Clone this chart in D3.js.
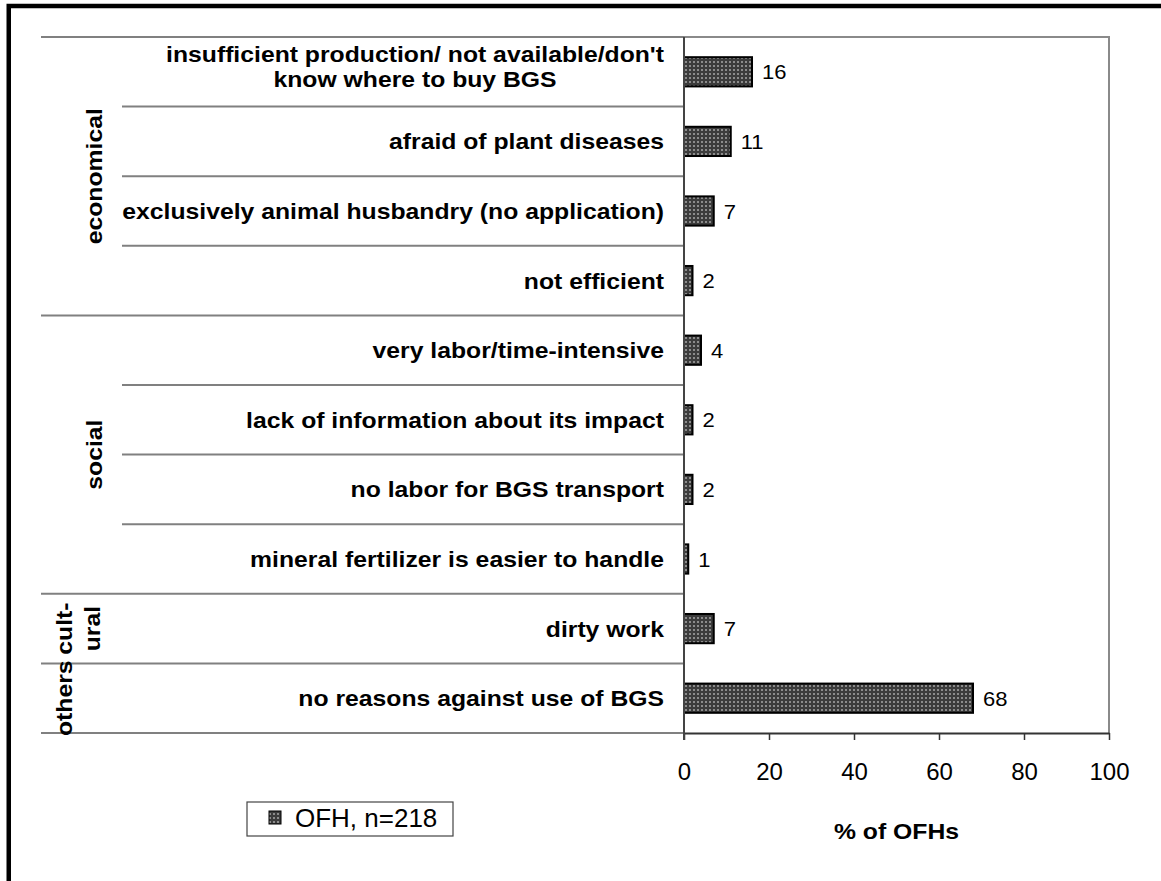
<!DOCTYPE html>
<html>
<head>
<meta charset="utf-8">
<script src="https://cdn.jsdelivr.net/npm/d3@7"></script>
<style>
  html, body { margin: 0; padding: 0; background: #fff; }
  svg { display: block; font-family: "Liberation Sans", Arial, sans-serif; }
</style>
</head>
<body>
<svg id="chart" width="1161" height="881"></svg>
<script>
// Reasons against using biogas slurry (BGS), share of OFHs in %
const categories = [
  ["insufficient production/ not available/don't", "know where to buy BGS"],
  ["afraid of plant diseases"],
  ["exclusively animal husbandry (no application)"],
  ["not efficient"],
  ["very labor/time-intensive"],
  ["lack of information about its impact"],
  ["no labor for BGS transport"],
  ["mineral fertilizer is easier to handle"],
  ["dirty work"],
  ["no reasons against use of BGS"]
];
const values = [16, 11, 7, 2, 4, 2, 2, 1, 7, 68];
const groups = [
  { lines: ["economical"], from: 0, to: 4 },
  { lines: ["social"], from: 4, to: 8 },
  { lines: ["cult-", "ural"], from: 8, to: 9 },
  { lines: ["others"], from: 9, to: 10 }
];
const xTicks = [0, 20, 40, 60, 80, 100];
const seriesName = "OFH, n=218";
const xTitle = "% of OFHs";

const svg = d3.select("#chart");

// text drawn slightly wide, as in the original export
function wideText(parent, x, y, str, opt) {
  const o = Object.assign({ size: 22, sx: 1.125, anchor: "start", bold: false, rotate: 0 }, opt);
  return parent.append("text")
    .attr("transform", `translate(${x},${y}) rotate(${o.rotate}) scale(${o.sx},1)`)
    .attr("text-anchor", o.anchor)
    .attr("font-size", o.size)
    .attr("font-weight", o.bold ? "bold" : "normal")
    .attr("fill", "#000")
    .text(str);
}

// dotted fill for the bars
const defs = svg.append("defs");
const pat = defs.append("pattern")
  .attr("id", "dots").attr("patternUnits", "userSpaceOnUse")
  .attr("width", 4).attr("height", 4);
pat.append("rect").attr("width", 4).attr("height", 4).attr("fill", "#3c3c3c");
pat.append("rect").attr("x", 1).attr("y", 1).attr("width", 2).attr("height", 2).attr("fill", "#8c8c8c");

// frame (left and top edges)
svg.append("path")
  .attr("d", "M8.75,881 V6 H1161")
  .attr("fill", "none").attr("stroke", "#000").attr("stroke-width", 4.5);

const plot = { left: 684, right: 1109, top: 37, bottom: 733 };
const labelLeft = 41, innerLeft = 122;

const x = d3.scaleLinear().domain([0, 100]).range([plot.left, plot.right]);
const y = d3.scaleBand().domain(d3.range(categories.length))
  .range([plot.top, plot.bottom]).padding(0);
const bw = y.bandwidth();
const barH = bw * 0.42;

// plot area border (top and right)
svg.append("path")
  .attr("d", `M${plot.left},${plot.top} H${plot.right} V${plot.bottom}`)
  .attr("fill", "none").attr("stroke", "#8a8a8a").attr("stroke-width", 2);

// separators between categories; group boundaries reach further left
const groupStarts = new Set(groups.map(g => g.from).concat([categories.length]));
const seps = d3.range(categories.length + 1);
svg.append("g").selectAll("line").data(seps).join("line")
  .attr("x1", i => groupStarts.has(i) ? labelLeft : innerLeft)
  .attr("x2", plot.left)
  .attr("y1", i => i < categories.length ? y(i) : plot.bottom)
  .attr("y2", i => i < categories.length ? y(i) : plot.bottom)
  .attr("stroke", "#808080").attr("stroke-width", 2);

// bars
svg.append("g").selectAll("rect").data(values).join("rect")
  .attr("x", x(0))
  .attr("y", (d, i) => y(i) + (bw - barH) / 2)
  .attr("width", d => x(d) - x(0))
  .attr("height", barH)
  .attr("fill", "url(#dots)")
  .attr("stroke", "#000").attr("stroke-width", 2);

// value labels
const valG = svg.append("g");
values.forEach((v, i) => {
  wideText(valG, x(v) + 10, y(i) + bw / 2 + 7.5, v, { size: 20, sx: 1.1 });
});

// category labels
const catG = svg.append("g");
categories.forEach((lines, i) => {
  const cy = y(i) + bw / 2;
  if (lines.length === 1) {
    wideText(catG, 664, cy + 8, lines[0], { anchor: "end", bold: true });
  } else {
    const t1 = wideText(catG, 664, cy - 9.5, lines[0], { anchor: "end", bold: true });
    const w = t1.node().getComputedTextLength() * 1.125;
    wideText(catG, 664 - w / 2, cy + 15.5, lines[1], { anchor: "middle", bold: true });
  }
});

// group labels, rotated
const grpG = svg.append("g");
groups.forEach(g => {
  const cy = (y(g.from) + (g.to < categories.length ? y(g.to) : plot.bottom)) / 2;
  if (g.lines.length === 1) {
    const bx = g.to - g.from > 1 ? 102 : 72;
    wideText(grpG, bx, cy, g.lines[0], { anchor: "middle", bold: true, rotate: -90 });
  } else {
    g.lines.forEach((ln, k) => {
      wideText(grpG, 72 + k * 28, cy, ln, { anchor: "middle", bold: true, rotate: -90 });
    });
  }
});

// x axis
const xAxis = d3.axisBottom(x).tickValues(xTicks).tickSize(7).tickPadding(23).tickSizeOuter(0);
const ax = svg.append("g").attr("transform", `translate(0,${plot.bottom})`).call(xAxis);
ax.select(".domain").attr("stroke", "#333").attr("stroke-width", 2);
ax.selectAll(".tick line").attr("stroke", "#333").attr("stroke-width", 1.5);
ax.selectAll(".tick text").attr("font-size", 24).attr("font-family", "Liberation Sans, Arial, sans-serif").attr("fill", "#000");

// y axis line
svg.append("line")
  .attr("x1", plot.left).attr("x2", plot.left)
  .attr("y1", plot.top).attr("y2", plot.bottom + 7)
  .attr("stroke", "#444").attr("stroke-width", 2);

// x axis title
wideText(svg, (plot.left + plot.right) / 2, 839, xTitle, { anchor: "middle", bold: true });

// legend
const lg = svg.append("g");
lg.append("rect").attr("x", 247).attr("y", 802).attr("width", 206).attr("height", 34)
  .attr("fill", "#fff").attr("stroke", "#444").attr("stroke-width", 1.2);
lg.append("rect").attr("x", 269).attr("y", 811).attr("width", 12).attr("height", 13)
  .attr("fill", "url(#dots)").attr("stroke", "#000").attr("stroke-width", 1);
wideText(lg, 295, 827, seriesName, { size: 25, sx: 1.04 });
</script>
</body>
</html>
